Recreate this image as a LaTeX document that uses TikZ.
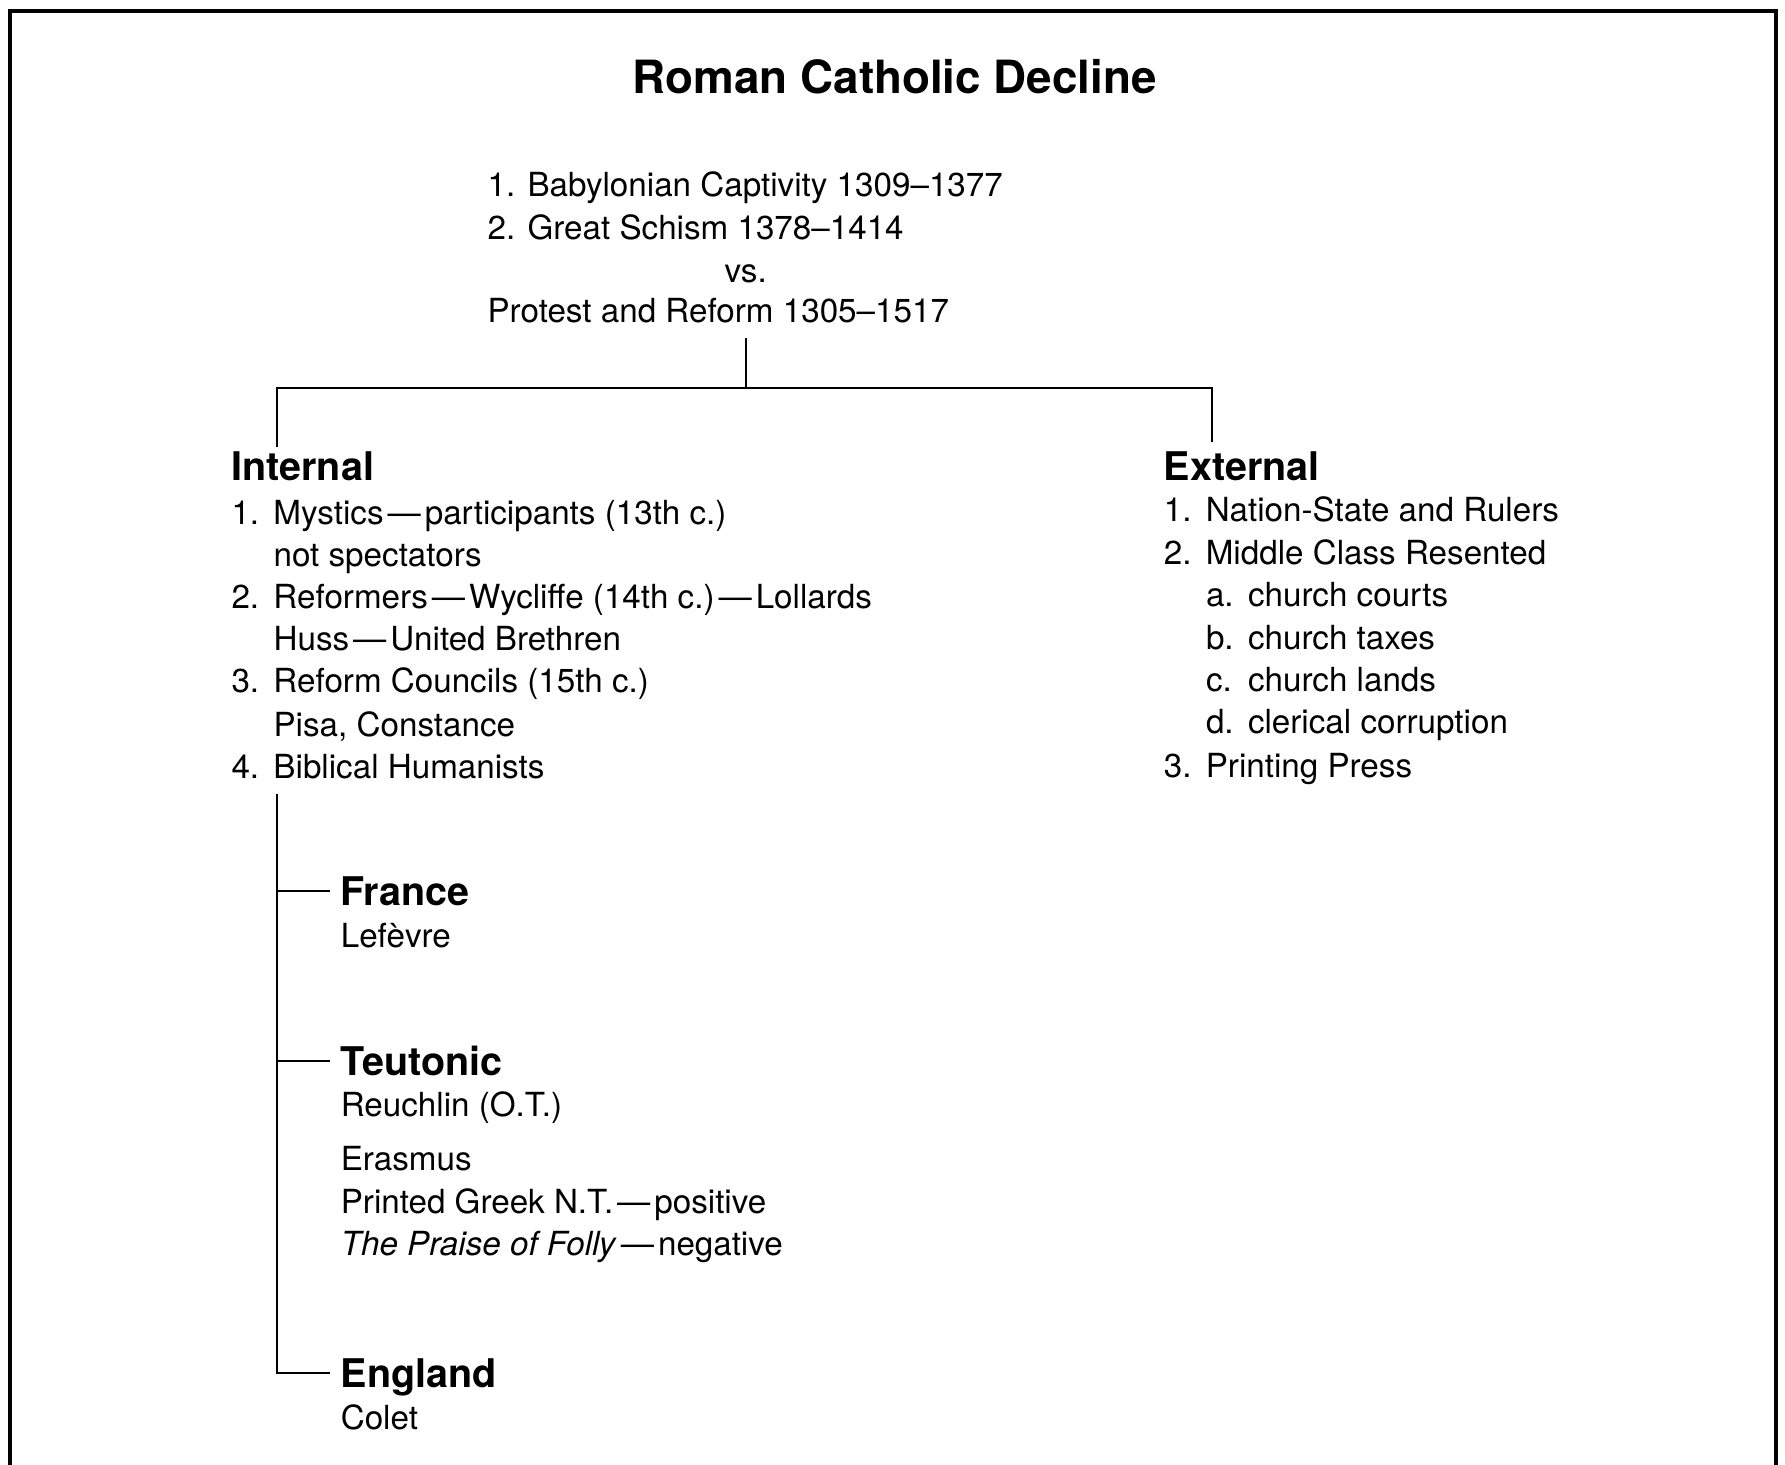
\documentclass[tikz,border=0pt]{standalone}
\usepackage{fontspec}
\setmainfont{TeX Gyre Heros}
\newcommand\numitem[2]{\makebox[21pt][l]{#1}#2}
\newcommand\dsh{\hspace{0.12em}—\hspace{0.12em}}
\begin{document}
\begin{tikzpicture}[x=0.5pt,y=-0.5pt,
  txt/.style={anchor=west, inner sep=0pt, font=\fontsize{16.6}{20}\selectfont, text height=12pt, text depth=0pt},
  hd/.style={anchor=west, inner sep=0pt, font=\fontsize{19.75}{24}\selectfont\bfseries, text height=14.2pt, text depth=0pt},
  ttl/.style={anchor=center, inner sep=0pt, font=\fontsize{22.9}{28}\selectfont\bfseries, text height=16.5pt, text depth=0pt},
  conn/.style={draw=black, line width=1pt},
  frame/.style={draw=black, line width=1.9pt}]
\useasboundingbox (0,0) rectangle (1785,1465);
\fill[white] (0,0) rectangle (1785,1465);
\draw[frame] (10,1466) -- (10,11.4) -- (1776,11.4) -- (1776,1466);

\node[ttl] (title) at (894.8,77.4) {Roman Catholic Decline};

\node[txt] (bab) at (487.2,184.4) {1. Babylonian Captivity 1309–1377};
\node[txt] (gs) at (487.2,227.7) {2. Great Schism 1378–1414};
\node[txt, anchor=center] (vs) at (745.7,270.9) {vs.};
\node[txt] (prot) at (487.2,310.8) {Protest and Reform 1305–1517};

\coordinate (stem) at (745.7,338);
\coordinate (split) at (745.7,388.2);
\coordinate (jl) at (276.6,388.2);
\coordinate (jr) at (1212.4,388.2);
\coordinate (intTop) at (276.6,447.4);
\coordinate (extTop) at (1212.4,441.7);
\draw[conn] (stem) -- (split);
\draw[conn] (intTop) -- (jl) -- (jr) -- (extTop);

\node[hd] (int) at (231.1,466.7) {Internal};
\node[hd] (ext) at (1163.4,466.7) {External};

\node[txt] (i1) at (231.1,512.3) {\numitem{1.}{Mystics\dsh participants (13th c.)}};
\node[txt] (i1b) at (273.2,554.4) {not spectators};
\node[txt] (i2) at (231.1,596.5) {\numitem{2.}{Reformers\dsh Wycliffe (14th c.)\dsh Lollards}};
\node[txt] (i2b) at (273.2,638.6) {Huss\dsh United Brethren};
\node[txt] (i3) at (231.1,680.8) {\numitem{3.}{Reform Councils (15th c.)}};
\node[txt] (i3b) at (273.2,724) {Pisa, Constance};
\node[txt] (i4) at (231.1,766.1) {\numitem{4.}{Biblical Humanists}};

\node[txt] (e1) at (1163.4,510) {\numitem{1.}{Nation-State and Rulers}};
\node[txt] (e2) at (1163.4,552.1) {\numitem{2.}{Middle Class Resented}};
\node[txt] (ea) at (1205.6,594.2) {\numitem{a.}{church courts}};
\node[txt] (eb) at (1205.6,637.5) {\numitem{b.}{church taxes}};
\node[txt] (ec) at (1205.6,679.6) {\numitem{c.}{church lands}};
\node[txt] (ed) at (1205.6,721.7) {\numitem{d.}{clerical corruption}};
\node[txt] (e3) at (1163.4,765) {\numitem{3.}{Printing Press}};

\node[hd] (fr) at (340.4,891.4) {France};
\node[txt] (lef) at (340.4,935.8) {Lefèvre};
\node[hd] (teu) at (340.4,1061) {Teutonic};
\node[txt] (reu) at (340.4,1104.2) {Reuchlin (O.T.)};
\node[txt] (era) at (340.4,1158.9) {Erasmus};
\node[txt] (pgr) at (340.4,1201) {Printed Greek N.T.\dsh positive};
\node[txt] (pra) at (340.4,1243) {\textit{The Praise of Folly}\dsh negative};
\node[hd] (eng) at (340.4,1372.9) {England};
\node[txt] (col) at (340.4,1417.3) {Colet};

\coordinate (hTop) at (276.6,793.5);
\draw[conn] (hTop) |- ([xshift=-5pt]eng.west);
\draw[conn] (hTop |- fr.west) -- ([xshift=-5pt]fr.west);
\draw[conn] (hTop |- teu.west) -- ([xshift=-5pt]teu.west);
\end{tikzpicture}
\end{document}
